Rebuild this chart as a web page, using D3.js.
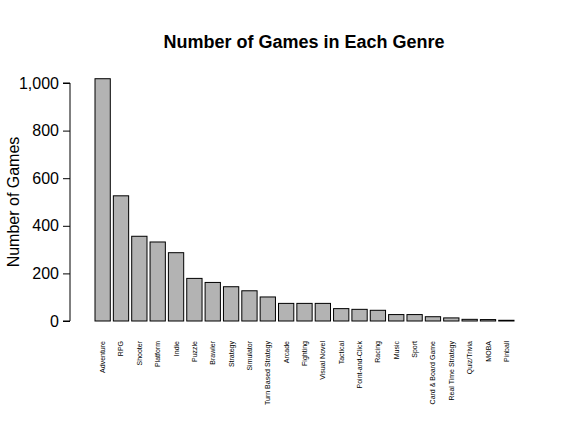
<!DOCTYPE html>
<html><head><meta charset="utf-8">
<script src="https://cdn.jsdelivr.net/npm/d3@7"></script>
<style>body{margin:0;background:#fff}text{font-family:"Liberation Sans",Arial,sans-serif}</style>
</head><body><svg id="c" width="571" height="421"></svg>
<script>
const genres=["Adventure","RPG","Shooter","Platform","Indie","Puzzle","Brawler","Strategy","Simulator","Turn Based Strategy","Arcade","Fighting","Visual Novel","Tactical","Point-and-Click","Racing","Music","Sport","Card & Board Game","Real Time Strategy","Quiz/Trivia","MOBA","Pinball"];
const counts=[1018,526,356,332,287,179,162,144,127,101,74,74,74,52,49,45,27,27,18,13,7,6,3];
const yTicks=[0,200,400,600,800,1000];
const svg=d3.select("#c");
const n=genres.length;
const x=d3.scaleLinear().domain([0.2,0.2+1.2*(n-1)+1]).range([95,514]);
const y=d3.scaleLinear().domain([0,1000]).range([321,83]);
svg.selectAll("rect").data(counts).join("rect")
 .attr("x",(d,i)=>x(0.2+1.2*i)).attr("width",x(1)-x(0))
 .attr("y",d=>y(d)).attr("height",d=>y(0)-y(d))
 .attr("fill","#b3b3b3").attr("stroke","#000").attr("stroke-width",1);
const ax=svg.append("g").attr("transform","translate(70,0)")
 .call(d3.axisLeft(y).tickValues(yTicks).tickSize(7).tickPadding(4));
ax.select(".domain").attr("d",`M-7,${y(0)}H0V${y(1000)}H-7`).attr("stroke","#000");
ax.selectAll("text").attr("font-size",16).attr("fill","#000").style("font-family","Liberation Sans, Arial, sans-serif");
svg.selectAll(".xl").data(genres).join("text").attr("class","xl")
 .attr("transform",(d,i)=>`translate(${x(0.2+1.2*i+0.5)+2.5},341) rotate(-90)`)
 .attr("text-anchor","end").attr("font-size",7).text(d=>d);
svg.append("text").attr("x",304).attr("y",48).attr("text-anchor","middle")
 .attr("font-size",18).attr("font-weight","bold").text("Number of Games in Each Genre");
svg.append("text").attr("transform","translate(19,202) rotate(-90)").attr("text-anchor","middle")
 .attr("font-size",16).text("Number of Games");
</script></body></html>
